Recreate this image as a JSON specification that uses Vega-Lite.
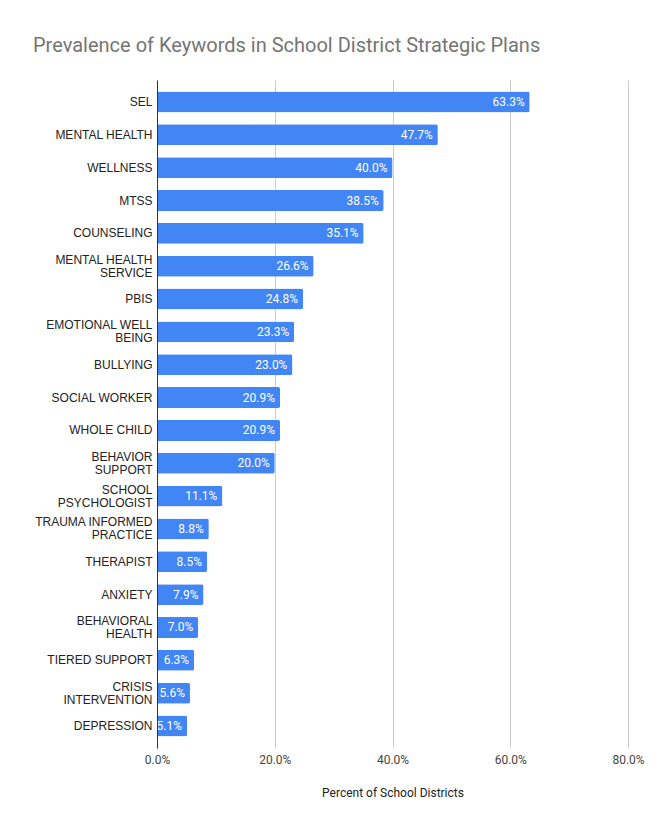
{
  "$schema": "https://vega.github.io/schema/vega-lite/v6.json",
  "width": 471,
  "height": 668,
  "autosize": {"type": "none"},
  "padding": {"left": 157, "top": 80, "right": 34, "bottom": 85},
  "background": "white",
  "title": {
    "text": "Prevalence of Keywords in School District Strategic Plans",
    "anchor": "start",
    "frame": "group",
    "dx": -124,
    "offset": 24,
    "font": "Roboto",
    "fontSize": 20,
    "fontWeight": "normal",
    "color": "#757575"
  },
  "data": {
    "values": [
      {"keyword": "SEL", "value": 0.633},
      {"keyword": "MENTAL HEALTH", "value": 0.477},
      {"keyword": "WELLNESS", "value": 0.400},
      {"keyword": "MTSS", "value": 0.385},
      {"keyword": "COUNSELING", "value": 0.351},
      {"keyword": "MENTAL HEALTH|SERVICE", "value": 0.266},
      {"keyword": "PBIS", "value": 0.248},
      {"keyword": "EMOTIONAL WELL|BEING", "value": 0.233},
      {"keyword": "BULLYING", "value": 0.230},
      {"keyword": "SOCIAL WORKER", "value": 0.209},
      {"keyword": "WHOLE CHILD", "value": 0.209},
      {"keyword": "BEHAVIOR|SUPPORT", "value": 0.200},
      {"keyword": "SCHOOL|PSYCHOLOGIST", "value": 0.111},
      {"keyword": "TRAUMA INFORMED|PRACTICE", "value": 0.088},
      {"keyword": "THERAPIST", "value": 0.085},
      {"keyword": "ANXIETY", "value": 0.079},
      {"keyword": "BEHAVIORAL|HEALTH", "value": 0.070},
      {"keyword": "TIERED SUPPORT", "value": 0.063},
      {"keyword": "CRISIS|INTERVENTION", "value": 0.056},
      {"keyword": "DEPRESSION", "value": 0.051}
    ]
  },
  "encoding": {
    "y": {
      "field": "keyword",
      "type": "nominal",
      "sort": null,
      "scale": {"paddingInner": 0.362, "paddingOuter": 0.35},
      "axis": {
        "title": null,
        "labelExpr": "split(datum.label, '|')",
        "labelFont": "Liberation Sans",
        "labelFontSize": 12,
        "labelColor": "#222222",
        "labelPadding": 5,
        "labelLineHeight": 13,
        "labelOffset": {"condition": {"test": "indexof(datum.value, '|') >= 0", "value": -6.5}, "value": 0},
        "ticks": false,
        "domainColor": "#333333",
        "domainWidth": 1,
        "grid": false,
        "zindex": 1
      }
    },
    "x": {
      "field": "value",
      "type": "quantitative",
      "scale": {"domain": [0, 0.8], "nice": false},
      "axis": {
        "title": "Percent of School Districts",
        "format": ".1%",
        "values": [0, 0.2, 0.4, 0.6, 0.8],
        "labelFlush": false,
        "labelFont": "Roboto",
        "labelFontSize": 12,
        "labelColor": "#444444",
        "labelPadding": 6,
        "titleFont": "Roboto",
        "titleFontSize": 12,
        "titleFontWeight": "normal",
        "titleColor": "#222222",
        "titlePadding": 22,
        "domain": false,
        "ticks": false,
        "gridColor": "#cccccc",
        "gridWidth": 1
      }
    }
  },
  "layer": [
    {
      "mark": {"type": "bar", "color": "#4285F4", "cornerRadiusEnd": 2}
    },
    {
      "mark": {
        "type": "text",
        "align": "right",
        "baseline": "middle",
        "dx": -5,
        "color": "white",
        "font": "Roboto",
        "fontSize": 12
      },
      "encoding": {
        "text": {"field": "value", "type": "quantitative", "format": ".1%"}
      }
    }
  ],
  "config": {"view": {"stroke": null}}
}
